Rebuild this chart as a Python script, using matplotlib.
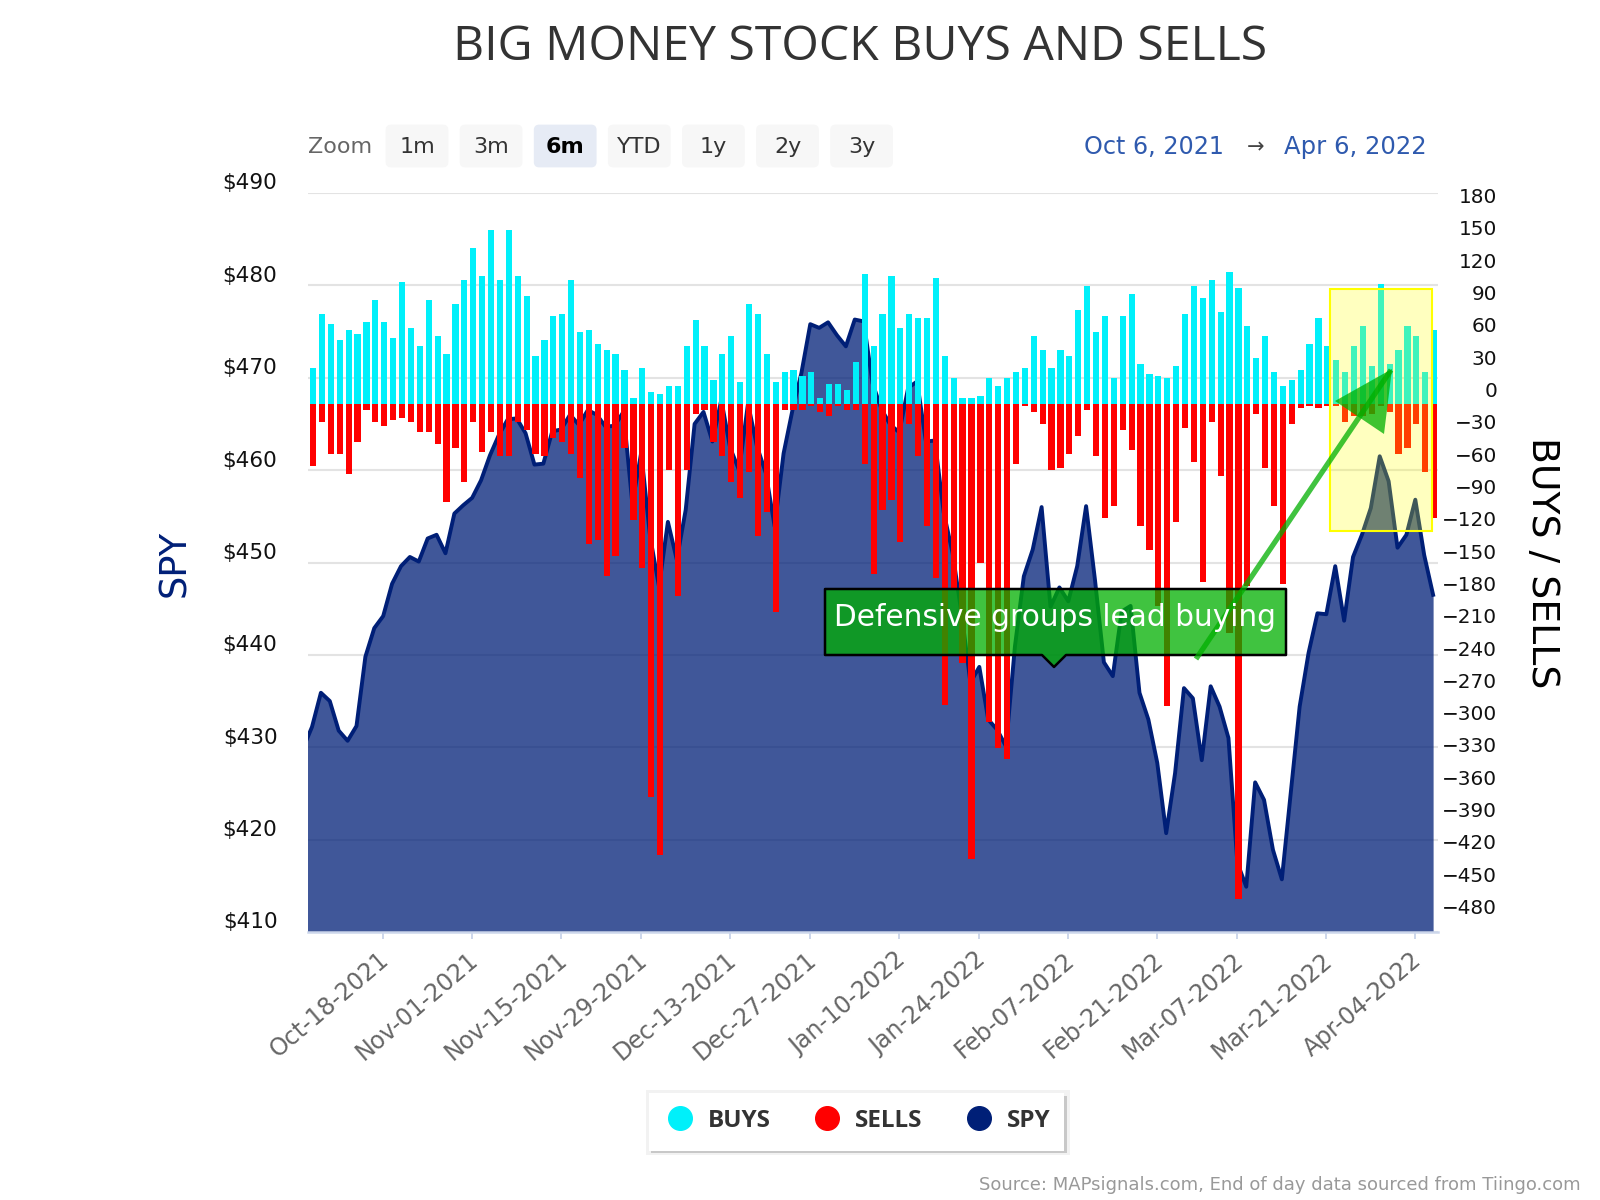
import numpy as np
import matplotlib
matplotlib.use('Agg')
import matplotlib.pyplot as plt
from matplotlib.lines import Line2D
from matplotlib.patches import Polygon, Rectangle, FancyBboxPatch
from matplotlib.transforms import ScaledTranslation

buys = [33, 84, 74, 59, 69, 65, 76, 97, 76, 61,
        113, 71, 54, 97, 63, 46, 93, 115, 145, 119,
        162, 115, 162, 119, 100, 45, 59, 82, 84, 115,
        67, 69, 56, 50, 46, 32, 6, 33, 11, 9,
        17, 17, 54, 78, 54, 22, 46, 63, 20, 93,
        84, 46, 20, 30, 32, 26, 30, 6, 19, 19,
        13, 39, 121, 54, 84, 119, 71, 84, 80, 80,
        117, 45, 24, 6, 6, 7, 24, 17, 24, 30,
        33, 63, 50, 33, 50, 45, 87, 110, 67, 82,
        24, 82, 102, 37, 28, 26, 24, 35, 84, 110,
        98, 115, 85, 123, 108, 72, 43, 63, 30, 17,
        22, 32, 56, 80, 54, 41, 30, 54, 72, 35,
        111, 37, 50, 72, 63, 30, 69]

sells = [58, 17, 46, 46, 65, 35, 6, 17, 20, 15,
         13, 17, 26, 26, 37, 91, 41, 72, 17, 45,
         26, 48, 48, 17, 24, 46, 48, 32, 35, 46,
         69, 130, 126, 160, 141, 41, 108, 152, 365, 419,
         61, 178, 61, 9, 6, 35, 48, 72, 87, 63,
         123, 100, 193, 6, 6, 6, 2, 7, 11, 2,
         6, 6, 56, 158, 98, 89, 128, 19, 48, 113,
         162, 279, 171, 240, 422, 148, 295, 319, 330, 56,
         2, 7, 19, 61, 59, 46, 30, 6, 48, 106,
         95, 24, 43, 113, 136, 188, 280, 110, 22, 54,
         165, 17, 67, 213, 460, 169, 9, 59, 95, 167,
         19, 4, 2, 4, 2, 2, 17, 11, 11, 9,
         2, 7, 46, 41, 19, 63, 106]

# first value is the day before the window, the plot edge cuts it off
spy = [429.9,
       432.2, 435.9, 435.0, 431.8, 430.7, 432.3, 439.8, 442.9, 444.2, 447.7,
       449.6, 450.6, 450.1, 452.6, 453.0, 451.0, 455.3, 456.2, 457.0, 458.9,
       461.6, 463.8, 465.5, 465.6, 464.0, 460.6, 460.7, 464.2, 464.4, 466.0,
       464.9, 466.5, 466.0, 464.7, 464.8, 466.3, 456.4, 461.9, 452.8, 447.4,
       454.4, 450.3, 455.7, 465.0, 466.3, 463.1, 467.6, 462.4, 460.0, 467.2,
       462.6, 459.7, 453.9, 461.8, 466.5, 470.5, 475.8, 475.4, 476.0, 474.6,
       473.4, 476.3, 476.1, 469.4, 466.6, 464.9, 464.1, 468.9, 469.6, 463.1,
       463.2, 455.4, 451.0, 444.5, 437.0, 438.7, 433.0, 431.9, 430.1, 440.9,
       448.5, 451.4, 456.0, 445.2, 447.3, 445.8, 449.6, 456.1, 448.1, 439.2,
       437.7, 444.7, 445.3, 435.9, 433.0, 428.3, 420.7, 427.2, 436.4, 435.3,
       428.6, 436.6, 434.4, 431.0, 417.5, 414.9, 426.2, 424.3, 418.9, 415.7,
       425.0, 434.4, 440.2, 444.5, 444.4, 449.6, 443.7, 450.6, 453.0, 455.9,
       461.5, 458.8, 451.6, 453.0, 456.8, 450.8, 446.5]

date_ticks = [8, 18, 28, 37, 47, 56, 66, 75, 85, 95, 104, 114, 124]
date_labels = ['Oct-18-2021', 'Nov-01-2021', 'Nov-15-2021', 'Nov-29-2021',
               'Dec-13-2021', 'Dec-27-2021', 'Jan-10-2022', 'Jan-24-2022',
               'Feb-07-2022', 'Feb-21-2022', 'Mar-07-2022', 'Mar-21-2022',
               'Apr-04-2022']
spy_ticks = [410, 420, 430, 440, 450, 460, 470, 480, 490]
flow_ticks = list(range(-480, 181, 30))
zoom_buttons = ['1m', '3m', '6m', 'YTD', '1y', '2y', '3y']

NAVY = '#001F77'
CYAN = '#00F0FA'
RED = '#FF0000'
GREEN = (0, 175 / 255, 0, 0.75)
FONT = 'DejaVu Sans'

plt.rcParams['font.family'] = FONT
fig = plt.figure(figsize=(16, 12), dpi=100)

# plot area is x 308-1438, y 193-932 in pixels
ax = fig.add_axes([308 / 1600, 1 - 932 / 1200, 1130 / 1600, 739 / 1200])
ax.set_xlim(-0.45, 126.55)
ax.set_ylim(410, 490)
ax.set_axisbelow(True)
ax.yaxis.grid(True, color='#E3E3E3', linewidth=1.5)

spy_days = np.arange(-1, 127)
ax.fill_between(spy_days, spy, 410, color=NAVY, alpha=0.75, linewidth=0)
ax.plot(spy_days, spy, color=NAVY, linewidth=2.8)

ax2 = ax.twinx()
ax2.set_ylim(-490.2, 195.9)
bar_days = np.arange(127) + 0.12
ax2.bar(bar_days, buys, width=0.7, color=CYAN, linewidth=0)
ax2.bar(bar_days, -np.array(sells), width=0.7, color=RED, linewidth=0)

for side in ['top', 'left', 'right']:
    ax.spines[side].set_visible(False)
    ax2.spines[side].set_visible(False)
ax2.spines['bottom'].set_visible(False)
ax.spines['bottom'].set_color('#CCD6EB')
ax.spines['bottom'].set_linewidth(1.8)

ax.set_xticks(date_ticks)
ax.set_xticklabels(date_labels, rotation=40.5, ha='right', va='top',
                   rotation_mode='anchor', fontsize=17, color='#666666')
ax.tick_params(axis='x', length=5, width=1.4, color='#CCD6EB', pad=5)
for label in ax.get_xticklabels():
    label.set_transform(label.get_transform() + ScaledTranslation(-0.05, -0.02, fig.dpi_scale_trans))

ax.set_yticks(spy_ticks)
ax.set_yticklabels(['$%d' % v for v in spy_ticks], fontsize=15.5, color='#111111')
ax.tick_params(axis='y', length=0, pad=22)
for label in ax.get_yticklabels():
    label.set_transform(label.get_transform() + ScaledTranslation(0, 0.115, fig.dpi_scale_trans))

ax2.set_yticks(flow_ticks)
ax2.set_yticklabels([str(v).replace('-', '\u2212') for v in flow_ticks],
                    fontsize=14.4, color='#111111', ha='right')
ax2.tick_params(axis='y', length=0, pad=42.5)
for label in ax2.get_yticklabels():
    label.set_transform(label.get_transform() + ScaledTranslation(0, 0.145, fig.dpi_scale_trans))

# everything else is placed in pixels on a top layer
top = fig.add_axes([0, 0, 1, 1], zorder=5)
top.set_xlim(0, 1600)
top.set_ylim(1200, 0)
top.axis('off')

top.text(860, 47, 'BIG MONEY STOCK BUYS AND SELLS', ha='center', va='center',
         fontsize=34.7, color='#333333', family='Open Sans')
top.text(175, 563, 'SPY', rotation=90, ha='center', va='center', fontsize=26.5, color=NAVY)
top.text(1542, 563, 'BUYS / SELLS', rotation=270, ha='center', va='center', fontsize=27.2, color='black')

top.text(308, 147, 'Zoom', ha='left', va='center', fontsize=16, color='#666666')
for i, name in enumerate(zoom_buttons):
    x0 = 385 + i * 74.1
    selected = name == '6m'
    top.add_patch(FancyBboxPatch((x0 + 2, 126), 60, 40, boxstyle='round,pad=0,rounding_size=4',
                                 mutation_aspect=1, linewidth=2,
                                 facecolor='#E6EBF5' if selected else '#F7F7F7',
                                 edgecolor='#E6EBF5' if selected else '#F7F7F7'))
    top.text(x0 + 32, 147, name, ha='center', va='center', fontsize=16, color='black' if selected else '#333333',
             fontweight='bold' if selected else 'normal')

top.text(1084, 147, 'Oct 6, 2021', ha='left', va='center', fontsize=17.2, color='#2F5AAE')
top.text(1256, 147, '\u2192', ha='center', va='center', fontsize=15, color='#444444')
top.text(1427, 147, 'Apr 6, 2022', ha='right', va='center', fontsize=17.5, color='#2F5AAE')

# highlight box, callout and arrow
top.add_patch(Rectangle((1330, 289), 102, 242, facecolor=(1, 1, 0, 0.25), edgecolor='#FFFF00', linewidth=1.5))
top.add_patch(Polygon([(825, 589), (1286, 589), (1286, 655), (1066, 655), (1054, 667), (1042, 655), (825, 655)],
                      closed=True, facecolor=GREEN, edgecolor='black', linewidth=1.8, joinstyle='round'))
top.text(1055, 617, 'Defensive groups lead buying', ha='center', va='center', fontsize=21.3, color='white')
top.plot([1196, 1391], [659, 370], color=GREEN, linewidth=3.8, solid_capstyle='butt')
top.add_patch(Polygon([(1392, 369), (1335, 401), (1384, 434)], closed=True, facecolor=GREEN, linewidth=0))

# legend box with its soft shadow
top.add_patch(Rectangle((646, 1090), 424, 65, facecolor='#F2F2F2', linewidth=0))
top.add_patch(Rectangle((651, 1096), 416, 57, facecolor='#C8C8C8', linewidth=0))
top.add_patch(Rectangle((649, 1093), 415, 58, facecolor='white', linewidth=0))
handles = [Line2D([], [], color=c, marker='o', linestyle='None', markersize=17)
           for c in [CYAN, RED, NAVY]]
leg = top.legend(handles, ['BUYS', 'SELLS', 'SPY'], ncol=3, frameon=False, loc='center',
                 bbox_to_anchor=(853, 1121), bbox_transform=top.transData,
                 prop={'family': 'Open Sans', 'weight': 'bold', 'size': 17.5},
                 columnspacing=1.33, handletextpad=0.14, labelcolor='#333333')

top.text(1581, 1185, 'Source: MAPsignals.com, End of day data sourced from Tiingo.com',
         ha='right', va='center', fontsize=12.95, color='#999999')

fig.savefig('out.png', dpi=100)
